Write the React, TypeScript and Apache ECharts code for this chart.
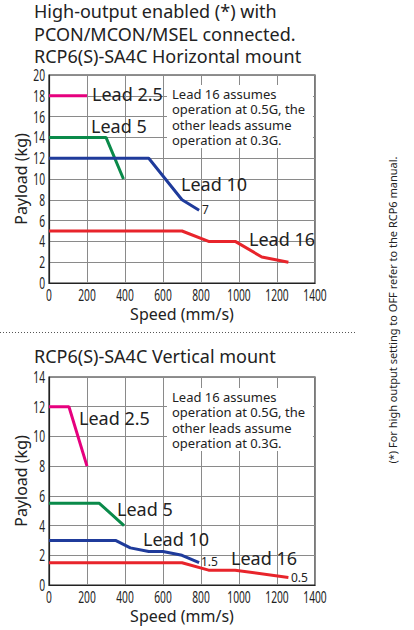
import React, { useEffect, useRef } from "react";
import * as echarts from "echarts";

// ---- data ----
const speedTicks = [0, 200, 400, 600, 800, 1000, 1200, 1400];

// Horizontal mount [speed mm/s, payload kg]
const hLead2_5 = [[0, 18], [200, 18]];
const hLead5 = [[0, 14], [300, 14], [392, 10]];
const hLead10 = [[0, 12], [525, 12], [700, 8], [790, 7]];
const hLead16 = [[0, 5], [700, 5], [840, 4], [980, 4], [1120, 2.5], [1260, 2]];

// Vertical mount
const vLead2_5 = [[0, 12], [105, 12], [200, 8]];
const vLead5 = [[0, 5.5], [265, 5.5], [395, 4]];
const vLead10 = [[0, 3], [350, 3], [428, 2.5], [525, 2.25], [600, 2.25], [700, 2], [790, 1.5]];
const vLead16 = [[0, 1.5], [700, 1.5], [840, 1], [980, 1], [1260, 0.5]];

const leadNames = ["Lead 2.5", "Lead 5", "Lead 10", "Lead 16"];
const leadColors = ["#e6007e", "#0a8a4a", "#1f3b9b", "#e8242b"];

const titleLines = [
  "High-output enabled (*) with",
  "PCON/MCON/MSEL connected.",
  "RCP6(S)-SA4C Horizontal mount",
];
const verticalTitle = "RCP6(S)-SA4C Vertical mount";
const noteLines = [
  "Lead 16 assumes",
  "operation at 0.5G, the",
  "other leads assume",
  "operation at 0.3G.",
];
const sideNote = "(*) For high output setting to OFF refer to the RCP6 manual.";

const FONT = "'Noto Sans', 'Open Sans', sans-serif";
const NARROW = "NarrowTick, 'Noto Sans', sans-serif";
const NARROW_SCALE = 0.64;

function condenseTicks(root: HTMLElement) {
  const texts = root.querySelectorAll("text");
  texts.forEach((t) => {
    const st = (t.getAttribute("style") || "") + (t.getAttribute("font-family") || "");
    if (!st.includes("NarrowTick")) return;
    if (t.getAttribute("data-condensed")) return;
    const tr = t.getAttribute("transform");
    if (tr) {
      t.setAttribute("transform", tr + ` scale(${NARROW_SCALE} 1)`);
    } else {
      const x = parseFloat(t.getAttribute("x") || "0");
      const y = parseFloat(t.getAttribute("y") || "0");
      t.setAttribute(
        "transform",
        `translate(${x} ${y}) scale(${NARROW_SCALE} 1) translate(${-x} ${-y})`
      );
    }
    t.setAttribute("data-condensed", "1");
  });
}

export default function App() {
  const ref = useRef<HTMLDivElement>(null);
  useEffect(() => {
    if (!ref.current) return;
    const el = ref.current;
    const chart = echarts.init(el, undefined, { renderer: "svg" });

    const xAxisBase = (gridIndex: number) => ({
      type: "value",
      gridIndex,
      min: speedTicks[0],
      max: speedTicks[speedTicks.length - 1],
      interval: 200,
      axisLine: { show: true, lineStyle: { color: "#222", width: 1.2 } },
      axisTick: { show: false },
      axisLabel: {
        color: "#222",
        fontFamily: NARROW,
        fontSize: 16,
        lineHeight: 16,
        margin: 4,
        hideOverlap: false,
        showMaxLabel: true,
        formatter: (v: number) => String(v),
      },
      splitLine: { show: true, lineStyle: { color: "#8a8a8a", width: 1 } },
      name: "Speed (mm/s)",
      nameLocation: "middle",
      nameGap: 23,
      nameMoveOverlap: false,
      nameTextStyle: { color: "#222", fontFamily: FONT, fontSize: 16 },
    });
    const yAxisBase = (gridIndex: number, max: number) => ({
      type: "value",
      gridIndex,
      min: 0,
      max,
      interval: 2,
      axisLine: { show: true, lineStyle: { color: "#222", width: 1.2 } },
      axisTick: { show: false },
      axisLabel: { color: "#222", fontFamily: NARROW, fontSize: 16, lineHeight: 16, margin: 4 },
      splitLine: { show: true, lineStyle: { color: "#8a8a8a", width: 1 } },
      name: "Payload (kg)",
      nameLocation: "middle",
      nameGap: 20,
      nameMoveOverlap: false,
      nameTextStyle: { color: "#222", fontFamily: FONT, fontSize: 16 },
    });

    const mk = (data: number[][], i: number, axis: number) => ({
      type: "line",
      name: leadNames[i],
      data,
      xAxisIndex: axis,
      yAxisIndex: axis,
      symbol: "none",
      lineStyle: { color: leadColors[i], width: 3 },
      z: 3,
    });

    const txt = (text: string, x: number, y: number, size: number, extra: any = {}) => ({
      type: "text",
      x,
      y,
      z: 10,
      style: {
        text,
        fill: "#222",
        fontFamily: FONT,
        fontSize: size,
        verticalAlign: "middle",
        ...extra,
      },
    });

    const graphics: any[] = [];
    graphics.push(txt(titleLines.join("\n"), 34, 33.5, 18, { lineHeight: 22.5 }));
    graphics.push(txt(verticalTitle, 34, 356, 18));
    // notes boxes
    [[85, 117], [388, 420]].forEach(([boxTop, textMid]) => {
      graphics.push({
        type: "rect",
        z: 1,
        shape: { x: 167, y: boxTop, width: 146, height: 63 },
        style: { fill: "#fff" },
      });
      graphics.push(txt(noteLines.join("\n"), 172, textMid, 13, { lineHeight: 15.3 }));
    });
    // lead labels, horizontal
    graphics.push(txt("Lead 2.5", 92, 94, 18));
    graphics.push(txt("Lead 5", 91, 126, 18));
    graphics.push(txt("Lead 10", 181, 184, 18));
    graphics.push(txt("Lead 16", 249, 239, 18));
    graphics.push(txt("7", 202, 209, 12));
    // lead labels, vertical
    graphics.push(txt("Lead 2.5", 79, 418, 18));
    graphics.push(txt("Lead 5", 117, 509, 18));
    graphics.push(txt("Lead 10", 143, 539, 18));
    graphics.push(txt("Lead 16", 231, 558, 18));
    graphics.push(txt("1.5", 201, 561, 12));
    graphics.push(txt("0.5", 291, 577, 12));
    // dotted separator
    graphics.push({
      type: "line",
      shape: { x1: 0, y1: 332.5, x2: 356, y2: 332.5 },
      style: { stroke: "#555", lineWidth: 1, lineDash: [1, 2] },
    });
    // side note
    graphics.push({
      type: "text",
      x: 392,
      y: 310,
      rotation: Math.PI / 2,
      style: {
        text: sideNote,
        fill: "#222",
        fontFamily: FONT,
        fontSize: 11,
        align: "center",
        verticalAlign: "middle",
      },
    });

    const gridBase = {
      left: 49,
      width: 266,
      height: 208,
      show: true,
      borderColor: "#222",
      borderWidth: 1.2,
      backgroundColor: "transparent",
      containLabel: false,
      outerBoundsMode: "none",
    };

    chart.on("finished", () => condenseTicks(el));
    chart.setOption({
      animation: false,
      backgroundColor: "#fff",
      grid: [
        { ...gridBase, top: 75 },
        { ...gridBase, top: 377 },
      ],
      xAxis: [xAxisBase(0), xAxisBase(1)],
      yAxis: [yAxisBase(0, 20), yAxisBase(1, 14)],
      series: [
        mk(hLead2_5, 0, 0),
        mk(hLead5, 1, 0),
        mk(hLead10, 2, 0),
        mk(hLead16, 3, 0),
        mk(vLead2_5, 0, 1),
        mk(vLead5, 1, 1),
        mk(vLead10, 2, 1),
        mk(vLead16, 3, 1),
      ],
      graphic: graphics,
    });
    condenseTicks(el);
    const timer = setTimeout(() => condenseTicks(el), 50);
    return () => {
      clearTimeout(timer);
      chart.dispose();
    };
  }, []);
  return (
    <div
      ref={ref}
      style={{ position: "fixed", left: 0, top: 0, width: 414, height: 630 }}
    />
  );
}
